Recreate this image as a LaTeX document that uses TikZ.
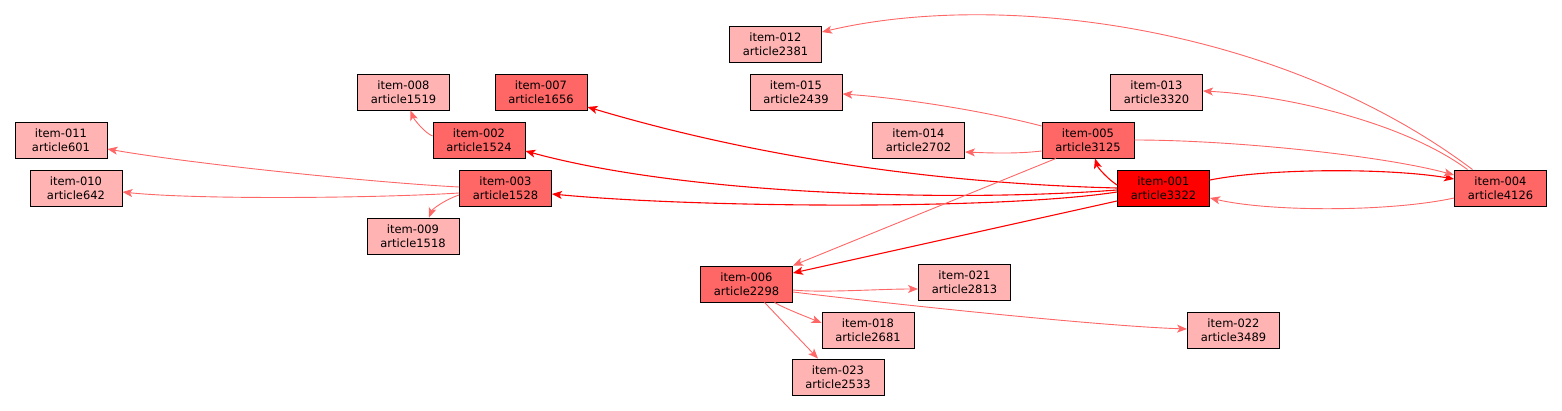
\documentclass[tikz,border=0pt]{standalone}
\usepackage{fontspec}
\setmainfont{DejaVu Sans}
\usepackage{tikz}
\usetikzlibrary{arrows.meta}
\definecolor{HubRed}{HTML}{FF0000}
\definecolor{MidRed}{HTML}{FF6666}
\definecolor{LeafPink}{HTML}{FFB3B3}

\begin{document}
\begin{tikzpicture}[x=1pt,y=-1pt,
  itembox/.style={draw=black,line width=0.9pt,minimum width=92pt,minimum height=36pt,
    inner sep=0pt,align=center,font=\fontsize{11.5}{14}\selectfont},
  hubnode/.style={itembox,fill=HubRed},
  midnode/.style={itembox,fill=MidRed},
  leafnode/.style={itembox,fill=LeafPink},
  hotedge/.style={HubRed,line width=1.1pt,-{Stealth[length=10pt,width=8pt,inset=2.5pt]}},
  softedge/.style={MidRed,line width=0.9pt,-{Stealth[length=10pt,width=8pt,inset=2.5pt]}}]
  \useasboundingbox (0,0) rectangle (1562,411);

  % items
  \node[hubnode]  (i001) at (1163.5,188) {item-001\\article3322};
  \node[midnode]  (i002) at (479,140)    {item-002\\article1524};
  \node[midnode]  (i003) at (505.5,188)  {item-003\\article1528};
  \node[midnode]  (i004) at (1500.5,188) {item-004\\article4126};
  \node[midnode]  (i005) at (1088,140)   {item-005\\article3125};
  \node[midnode]  (i006) at (746.5,284)  {item-006\\article2298};
  \node[midnode]  (i007) at (541,92)     {item-007\\article1656};
  \node[leafnode] (i008) at (403.5,92)   {item-008\\article1519};
  \node[leafnode] (i009) at (413,236)    {item-009\\article1518};
  \node[leafnode] (i010) at (76,188)     {item-010\\article642};
  \node[leafnode] (i011) at (61,140)     {item-011\\article601};
  \node[leafnode] (i012) at (775.5,44)   {item-012\\article2381};
  \node[leafnode] (i013) at (1156.5,92)  {item-013\\article3320};
  \node[leafnode] (i014) at (918.5,140)  {item-014\\article2702};
  \node[leafnode] (i015) at (796,92)     {item-015\\article2439};
  \node[leafnode] (i018) at (868,330)    {item-018\\article2681};
  \node[leafnode] (i021) at (964.5,282)  {item-021\\article2813};
  \node[leafnode] (i022) at (1233.5,330) {item-022\\article3489};
  \node[leafnode] (i023) at (838,377)    {item-023\\article2533};

  % links out of item-001
  \draw[hotedge] ([yshift=3pt]i001.west) .. controls +(-8,-5) and +(3,10) .. ([xshift=7pt]i005.south);
  \draw[hotedge] (i001.west) .. controls (917,183) and (738,152) .. ([yshift=-15pt]i007.east);
  \draw[hotedge] ([yshift=-2pt]i001.west) .. controls (960,202) and (690,196) .. ([yshift=-11pt]i002.east);
  \draw[hotedge] ([yshift=-4pt]i001.west) .. controls (1000,210) and (700,208) .. ([yshift=-6pt]i003.east);
  \draw[hotedge] ([yshift=-13pt]i001.west) -- ([yshift=11pt]i006.east);
  \draw[hotedge] ([yshift=8pt]i001.east) .. controls (1270,168) and (1390,168) .. ([yshift=9pt]i004.west);

  % the other links
  \draw[softedge] ([yshift=-10pt]i004.west) .. controls (1390,212) and (1270,212) .. ([yshift=-10pt]i001.east);
  \draw[softedge] ([xshift=-28pt]i004.north) .. controls (1280,25) and (1000,-10) .. ([yshift=12pt]i012.east);
  \draw[softedge] ([xshift=-33pt]i004.north) .. controls (1400,120) and (1280,95) .. ([yshift=1pt]i013.east);
  \draw[softedge] (i005.east) .. controls (1230,140) and (1380,155) .. ([yshift=13pt]i004.west);
  \draw[softedge] ([yshift=14pt]i005.west) .. controls (980,110) and (900,98) .. ([yshift=-2pt]i015.east);
  \draw[softedge] ([yshift=-11pt]i005.west) .. controls +(-25,3) and +(25,1) .. ([yshift=-12pt]i014.east);
  \draw[softedge] ([xshift=-32pt]i005.south) -- (i006.north east);
  \draw[softedge] ([yshift=4pt]i002.west) .. controls +(-8,-3) and +(3,8) .. ([xshift=7pt]i008.south);
  \draw[softedge] ([yshift=1pt]i003.west) .. controls (380,183) and (200,165) .. ([yshift=-9pt]i011.east);
  \draw[softedge] ([yshift=-5pt]i003.west) .. controls (380,198) and (200,200) .. ([yshift=-4pt]i010.east);
  \draw[softedge] ([yshift=-7pt]i003.west) .. controls +(-15,5) and +(3,-8) .. ([xshift=16pt]i009.north);
  \draw[softedge] ([yshift=-6pt]i006.east) .. controls +(30,3) and +(-40,0) .. ([yshift=-7pt]i021.west);
  \draw[softedge] ([yshift=-8pt]i006.east) .. controls (900,305) and (1100,326) .. ([yshift=1pt]i022.west);
  \draw[softedge] ([xshift=28pt]i006.south) .. controls +(10,6) and +(-12,-5) .. ([yshift=7pt]i018.west);
  \draw[softedge] ([xshift=18pt]i006.south) -- ([xshift=-20pt]i023.north);
\end{tikzpicture}
\end{document}
